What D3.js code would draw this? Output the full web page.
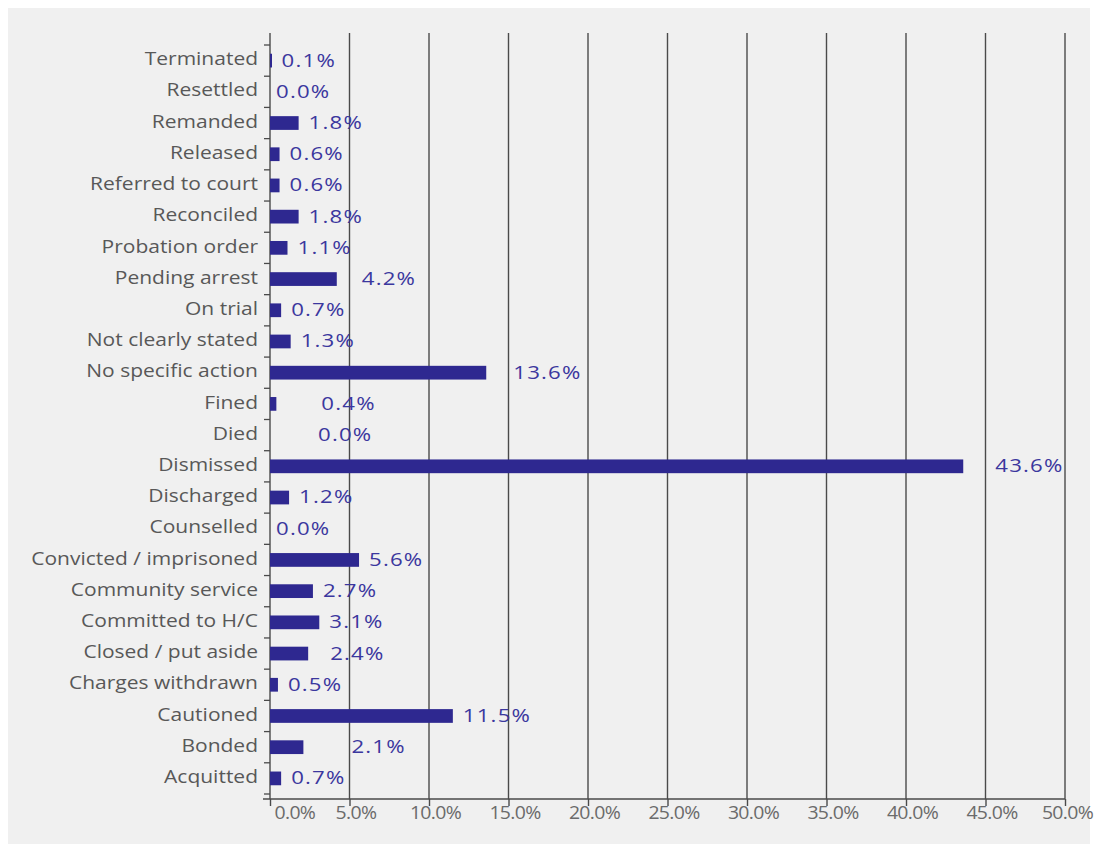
<!DOCTYPE html>
<html>
<head>
<meta charset="utf-8">
<script src="https://cdn.jsdelivr.net/npm/d3@7"></script>
<style>
  html, body { margin: 0; padding: 0; background: #ffffff; }
  svg { display: block; }
</style>
</head>
<body>
<svg id="chart" width="1098" height="852"></svg>
<script>
// Case outcomes, listed from the top of the chart down
const categories = [
  "Terminated", "Resettled", "Remanded", "Released", "Referred to court",
  "Reconciled", "Probation order", "Pending arrest", "On trial",
  "Not clearly stated", "No specific action", "Fined", "Died", "Dismissed",
  "Discharged", "Counselled", "Convicted / imprisoned", "Community service",
  "Committed to H/C", "Closed / put aside", "Charges withdrawn", "Cautioned",
  "Bonded", "Acquitted"
];
// Share of cases, in percent
const shares = [
  0.1, 0.0, 1.8, 0.6, 0.6,
  1.8, 1.1, 4.2, 0.7,
  1.3, 13.6, 0.4, 0.0, 43.6,
  1.2, 0.0, 5.6, 2.7,
  3.1, 2.4, 0.5, 11.5,
  2.1, 0.7
];
// Axis ticks, in percent
const xTicks = [0, 5, 10, 15, 20, 25, 30, 35, 40, 45, 50];

// Extra horizontal spacing (px) for some value labels
const labelNudge = {
  "Fined": 35, "Died": 38, "Bonded": 38, "No specific action": 17,
  "Dismissed": 22, "Pending arrest": 15, "Closed / put aside": 12,
  "Resettled": -4, "Counselled": -4
};

const rows = categories.map((c, i) => ({ cat: c, value: shares[i] }));

const svg = d3.select("#chart");
const W = 1098, H = 852;

// panel background
svg.append("rect")
  .attr("x", 8).attr("y", 8).attr("width", W - 16).attr("height", H - 16)
  .attr("fill", "#f0f0f0");

const plot = { left: 270, right: 1065, top: 33, bottom: 799, bandTop: 45, bandBottom: 794 };

const x = d3.scaleLinear().domain([0, 50]).range([plot.left, plot.right]);
const y = d3.scaleBand().domain(categories)
  .range([plot.bandTop, plot.bandBottom])
  .paddingInner(0.56).paddingOuter(0.28);

const lineColor = "#4a4a4a";
const barColor = "#2e2890";
const valueColor = "#3b379e";
const stretch = 1.2;

// vertical gridlines
svg.append("g")
  .selectAll("line")
  .data(xTicks.filter(t => t > 0))
  .join("line")
  .attr("x1", d => x(d)).attr("x2", d => x(d))
  .attr("y1", plot.top).attr("y2", plot.bottom)
  .attr("stroke", lineColor).attr("stroke-width", 1.4);

// x axis
const xAxis = svg.append("g")
  .attr("transform", `translate(0,${plot.bottom})`)
  .call(d3.axisBottom(x).tickValues(xTicks).tickSize(7).tickSizeOuter(0)
    .tickFormat(d => d3.format(".1f")(d) + "%"));
xAxis.select(".domain").remove();
xAxis.selectAll(".tick line").attr("stroke", lineColor).attr("stroke-width", 1.4);
xAxis.append("line")
  .attr("x1", plot.left - 7).attr("x2", plot.right)
  .attr("stroke", lineColor).attr("stroke-width", 1.4);
xAxis.selectAll(".tick text")
  .attr("y", 0).attr("dy", 0)
  .attr("fill", "#6b6b6b")
  .attr("font-family", "'Open Sans', sans-serif")
  .attr("font-size", 18)
  .attr("letter-spacing", -0.6)
  .attr("text-anchor", d => d === 0 ? "start" : "middle")
  .attr("transform", d => `translate(${d === 0 ? 4 : (d === 50 ? 2 : 6)},15) scale(1.08,1)`)
  .attr("dominant-baseline", "middle");

// y axis line and category boundary ticks
svg.append("line")
  .attr("x1", plot.left).attr("x2", plot.left)
  .attr("y1", plot.top).attr("y2", plot.bottom)
  .attr("stroke", lineColor).attr("stroke-width", 1.4);

const step = y.step();
svg.append("g")
  .selectAll("line")
  .data(categories.map(c => y(c) - (step - y.bandwidth()) / 2).concat([plot.bandBottom]))
  .join("line")
  .attr("x1", plot.left - 6).attr("x2", plot.left)
  .attr("y1", d => d).attr("y2", d => d)
  .attr("stroke", lineColor).attr("stroke-width", 1.3);

// category labels
const yAxis = svg.append("g")
  .attr("transform", `translate(${plot.left},0)`)
  .call(d3.axisLeft(y).tickSize(0).tickPadding(12));
yAxis.select(".domain").remove();
yAxis.selectAll(".tick text")
  .attr("x", 0).attr("dy", 0)
  .attr("transform", "translate(-12,0) scale(1.2,1)")
  .attr("dominant-baseline", "middle")
  .attr("fill", "#585858")
  .attr("font-family", "'Open Sans', sans-serif")
  .attr("font-size", 17.5);

// bars
svg.append("g")
  .selectAll("rect")
  .data(rows.filter(d => d.value > 0))
  .join("rect")
  .attr("x", x(0))
  .attr("y", d => y(d.cat))
  .attr("width", d => Math.max(x(d.value) - x(0), 2))
  .attr("height", y.bandwidth())
  .attr("fill", barColor);

// value labels
svg.append("g")
  .selectAll("text")
  .data(rows)
  .join("text")
  .attr("transform", d => `translate(${x(d.value) + 10 + (labelNudge[d.cat] || 0)},${y(d.cat) + y.bandwidth() / 2 + 1}) scale(${stretch},1)`)
  .attr("dominant-baseline", "middle")
  .attr("fill", valueColor)
  .attr("font-family", "'Open Sans', sans-serif")
  .attr("font-size", 18.5)
  .attr("letter-spacing", 1)
  .text(d => d3.format(".1f")(d.value) + "%");
</script>
</body>
</html>
